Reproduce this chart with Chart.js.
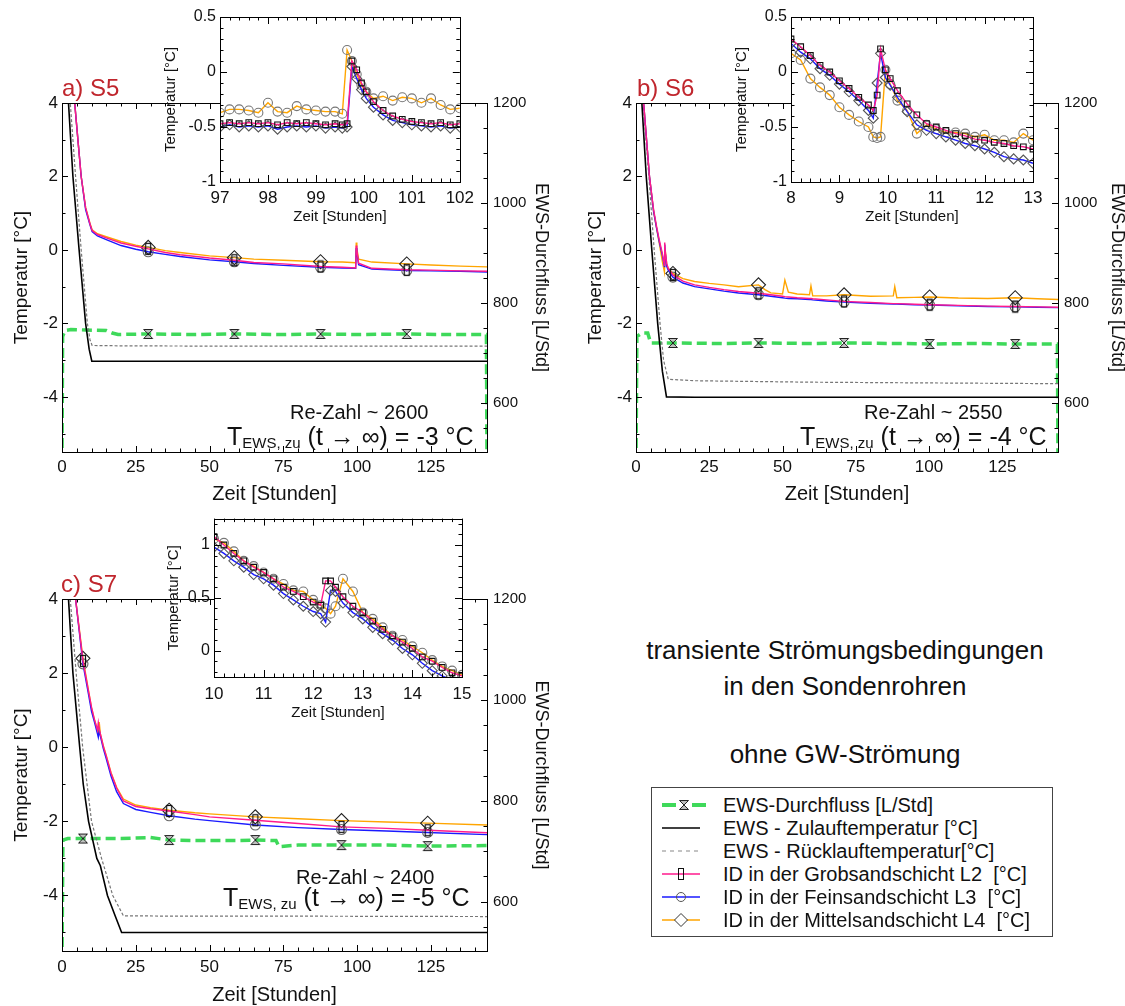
<!DOCTYPE html>
<html>
<head>
<meta charset="utf-8">
<script src="https://cdn.jsdelivr.net/npm/chart.js@4.4.1/dist/chart.umd.min.js"></script>
<style>
html, body { margin: 0; padding: 0; background: #fff; }
body { width: 1125px; height: 1006px; overflow: hidden; position: relative; font-family: "Liberation Sans", Arial, sans-serif; color: #111; }
.box { position: absolute; }
.txt { position: absolute; white-space: pre; line-height: 1; }
.panel { color: #c0262d; font-size: 24px; }
.re { font-size: 20px; }
.tews { font-size: 25px; }
.tews .sub { font-size: 15px; position: relative; top: 3px; }
.note { position: absolute; left: 600px; width: 490px; text-align: center; font-size: 26px; line-height: 26px; }
#legend { position: absolute; left: 651px; top: 787px; width: 400px; height: 148px; border: 1px solid #444; }
.row { position: absolute; left: 0; height: 23px; width: 400px; }
.row svg { position: absolute; left: 10px; top: 1px; }
.row span { position: absolute; left: 71px; top: 0; font-size: 20px; line-height: 23px; white-space: pre; }
</style>
</head>
<body>

<div class="box" style="left:0;top:80px;width:560px;height:430px"><canvas id="mainA"></canvas></div>
<div class="box" style="left:570px;top:80px;width:565px;height:430px"><canvas id="mainB"></canvas></div>
<div class="box" style="left:0;top:560px;width:560px;height:450px"><canvas id="mainC"></canvas></div>
<div class="box" style="left:150px;top:0;width:330px;height:235px"><canvas id="insetA"></canvas></div>
<div class="box" style="left:720px;top:0;width:330px;height:235px"><canvas id="insetB"></canvas></div>
<div class="box" style="left:150px;top:505px;width:330px;height:225px"><canvas id="insetC"></canvas></div>

<div class="txt panel" style="left:62px;top:76px">a) S5</div>
<div class="txt panel" style="left:637px;top:76px">b) S6</div>
<div class="txt panel" style="left:61px;top:572px">c) S7</div>

<div class="txt re" style="left:290px;top:402px">Re-Zahl ~ 2600</div>
<div class="txt tews" style="left:227px;top:424px">T<span class="sub">EWS, zu</span> (t → ∞) = -3 °C</div>
<div class="txt re" style="left:864px;top:402px">Re-Zahl ~ 2550</div>
<div class="txt tews" style="left:800px;top:424px">T<span class="sub">EWS, zu</span> (t → ∞) = -4 °C</div>
<div class="txt re" style="left:296px;top:867px">Re-Zahl ~ 2400</div>
<div class="txt tews" style="left:223px;top:885px">T<span class="sub">EWS, zu</span> (t → ∞) = -5 °C</div>

<div class="note" style="top:637px">transiente Strömungsbedingungen</div>
<div class="note" style="top:673px">in den Sondenrohren</div>
<div class="note" style="top:741px">ohne GW-Strömung</div>

<div id="legend">
  <div class="row" style="top:6px">
    <svg width="44" height="20"><line x1="0" y1="10" x2="14" y2="10" stroke="#3ed95a" stroke-width="4"/><line x1="30" y1="10" x2="44" y2="10" stroke="#3ed95a" stroke-width="4"/><path d="M17.5,5.5 L26.5,5.5 L17.5,14.5 L26.5,14.5 Z" fill="#bbb" stroke="#222" stroke-width="1"/></svg>
    <span>EWS-Durchfluss [L/Std]</span>
  </div>
  <div class="row" style="top:29px">
    <svg width="44" height="20"><line x1="0" y1="10" x2="38" y2="10" stroke="#000" stroke-width="1.6"/></svg>
    <span>EWS - Zulauftemperatur [°C]</span>
  </div>
  <div class="row" style="top:52px">
    <svg width="44" height="20"><line x1="0" y1="10" x2="38" y2="10" stroke="#888" stroke-width="1.2" stroke-dasharray="4 4"/></svg>
    <span>EWS - Rücklauftemperatur[°C]</span>
  </div>
  <div class="row" style="top:75px">
    <svg width="44" height="20"><line x1="0" y1="10" x2="38" y2="10" stroke="#ff1a8c" stroke-width="1.4"/><rect x="16.5" y="4.5" width="5" height="11" fill="none" stroke="#111" stroke-width="1"/></svg>
    <span>ID in der Grobsandschicht L2  [°C]</span>
  </div>
  <div class="row" style="top:98px">
    <svg width="44" height="20"><line x1="0" y1="10" x2="38" y2="10" stroke="#1a1aff" stroke-width="1.4"/><circle cx="19" cy="10" r="4.5" fill="none" stroke="#555" stroke-width="1"/></svg>
    <span>ID in der Feinsandschicht L3  [°C]</span>
  </div>
  <div class="row" style="top:121px">
    <svg width="44" height="20"><line x1="0" y1="10" x2="38" y2="10" stroke="#ffa500" stroke-width="1.4"/><path d="M19,3.5 L25.5,10 L19,16.5 L12.5,10 Z" fill="#fff" stroke="#333" stroke-width="1"/></svg>
    <span>ID in der Mittelsandschicht L4  [°C]</span>
  </div>
</div>

<script>
// ---------- Achsen / Ticks
const timeTicks = [0, 25, 50, 75, 100, 125];
const tempTicks = [-4, -2, 0, 2, 4];
const flowTicks = [600, 800, 1000, 1200];
const insetTempTicks = [-1, -0.5, 0, 0.5];
const insetCTempTicks = [0, 0.5, 1];
const insetATimeTicks = [97, 98, 99, 100, 101, 102];
const insetBTimeTicks = [8, 9, 10, 11, 12, 13];
const insetCTimeTicks = [10, 11, 12, 13, 14, 15];

// ---------- a) S5
const markA = [29.2, 58.4, 87.6, 116.8];
const tA_zu = [0, 2.2, 3.7, 5.8, 8.0, 9.2, 10.1, 20, 60, 100, 144];
const zulaufA = [7.5, 4, 2, 0, -2, -2.7, -3.03, -3.03, -3.03, -3.03, -3.03];
const tA_rueck = [0, 2.8, 4.6, 6.5, 8.6, 9.5, 10.2, 20, 60, 100, 144];
const ruecklaufA = [7.5, 4, 2, 0, -2, -2.45, -2.6, -2.61, -2.62, -2.62, -2.62];
const tA_flow = [0, 0.2, 1, 3, 8, 15, 17, 19, 29.2, 45, 58.4, 75, 87.6, 100, 116.8, 130, 143.8, 144];
const flowA = [480, 733, 745, 747, 746, 745, 740, 737, 738, 737, 738, 737, 738, 737, 738, 737, 737, 480];
const tA_id = [0, 4.3, 5.5, 6.5, 8, 9.5, 10.2, 12, 15, 20, 25, 29.2, 35, 40, 50, 58.4, 65, 75, 87.6, 95, 99.5, 99.7, 99.9, 100.5, 105, 116.8, 125, 135, 144];
const l2A = [10, 4, 2.9, 2, 1.15, 0.7, 0.53, 0.42, 0.33, 0.19, 0.1, 0.03, -0.07, -0.13, -0.22, -0.28, -0.34, -0.38, -0.45, -0.47, -0.49, 0.12, 0.0, -0.36, -0.5, -0.54, -0.55, -0.57, -0.58];
const l3A = [10, 4, 2.9, 2, 1.1, 0.68, 0.5, 0.38, 0.28, 0.12, 0.02, -0.05, -0.12, -0.18, -0.27, -0.32, -0.37, -0.42, -0.47, -0.49, -0.5, 0.05, -0.06, -0.4, -0.52, -0.56, -0.57, -0.58, -0.6];
const l4A = [10, 4, 2.9, 2, 1.15, 0.72, 0.55, 0.44, 0.36, 0.23, 0.13, 0.07, -0.02, -0.07, -0.16, -0.21, -0.25, -0.28, -0.32, -0.33, -0.35, 0.2, 0.04, -0.25, -0.33, -0.38, -0.41, -0.44, -0.46];

// ---------- b) S6
const markB = [12.6, 41.8, 71, 100.2, 129.4];
const tB_zu = [0, 2, 3.5, 5.4, 7.4, 9, 10.4, 20, 60, 100, 144];
const zulaufB = [7, 4, 2, 0, -2, -3.3, -4.0, -4.01, -4.01, -4.01, -4.01];
const tB_rueck = [0, 2.4, 4.4, 6.2, 8.2, 9.4, 11, 20, 60, 100, 144];
const ruecklaufB = [7, 4, 2, 0, -2, -3, -3.52, -3.56, -3.6, -3.62, -3.64];
const tB_flow = [0, 0.3, 2, 4, 5, 12.6, 30, 41.8, 60, 71, 90, 100.2, 115, 129.4, 143.8, 144];
const flowB = [480, 733, 740, 740, 720, 720, 719, 720, 719, 720, 719, 718, 719, 718, 718, 480];
const tB_id = [0, 2.6, 4.6, 6, 7, 8, 9, 9.7, 9.8, 10, 10.5, 11, 12.6, 16, 20, 25, 30, 35, 41.8, 44, 46, 50, 50.8, 52, 55, 59.2, 59.7, 60.3, 65, 71, 80, 87.8, 88.3, 89, 95, 100.2, 110, 120, 129.4, 137, 144];
const l2B = [10, 4, 2, 1.1, 0.65, 0.25, -0.1, -0.42, 0.2, -0.05, -0.38, -0.5, -0.68, -0.85, -0.95, -1.02, -1.08, -1.13, -1.18, -1.2, -1.22, -1.26, -1.27, -1.28, -1.3, -1.32, -1.32, -1.33, -1.36, -1.4, -1.43, -1.46, -1.46, -1.46, -1.48, -1.49, -1.51, -1.53, -1.54, -1.55, -1.56];
const l3B = [10, 4, 2, 1.05, 0.6, 0.2, -0.15, -0.45, 0.15, -0.1, -0.45, -0.55, -0.74, -0.9, -1.0, -1.06, -1.12, -1.17, -1.22, -1.24, -1.26, -1.3, -1.31, -1.32, -1.33, -1.35, -1.35, -1.36, -1.39, -1.42, -1.45, -1.47, -1.47, -1.47, -1.49, -1.5, -1.52, -1.54, -1.55, -1.56, -1.57];
const l4B = [10, 4, 2, 1.05, 0.6, 0.15, -0.32, -0.6, -0.6, -0.02, -0.4, -0.5, -0.64, -0.78, -0.86, -0.91, -0.95, -1.0, -0.95, -1.08, -1.17, -1.2, -0.82, -1.15, -1.2, -1.22, -0.98, -1.25, -1.25, -1.22, -1.26, -1.25, -1.0, -1.3, -1.29, -1.28, -1.31, -1.32, -1.3, -1.33, -1.35];

// ---------- c) S7
const markC = [7.1, 36.3, 65.5, 94.7, 123.9];
const tC_zu = [0, 2.2, 3.7, 6, 7.2, 9, 11.8, 13, 15.4, 18, 20.2, 40, 80, 144];
const zulaufC = [7.5, 4, 2, 0, -1, -2, -3, -3.2, -4, -4.55, -5.0, -5.0, -5.0, -5.0];
const tC_rueck = [0, 2.8, 4.8, 7, 10, 13.4, 17.2, 20.8, 40, 80, 144];
const ruecklaufC = [7.5, 4, 2, 0, -2, -3, -4, -4.55, -4.56, -4.56, -4.57];
const tC_flow = [0, 0.3, 2, 7.1, 20, 30, 36.3, 45, 60, 65.5, 72.5, 73.5, 80, 94.7, 110, 123.9, 144];
const flowC = [480, 722, 725, 725, 725, 727, 722, 721, 721, 722, 721, 709, 712, 712, 712, 710, 711];
const tC_id = [0, 4.6, 7.1, 9, 10, 11, 12, 12.3, 12.6, 13, 14, 15, 16.6, 18.5, 20.8, 25, 30, 36.3, 45, 50, 65.5, 80, 94.7, 110, 123.9, 144];
const l2C = [12, 4, 2.33, 1.5, 1.08, 0.74, 0.46, 0.66, 0.5, 0.36, 0.02, -0.24, -0.7, -1.1, -1.45, -1.6, -1.66, -1.72, -1.82, -1.88, -1.97, -2.06, -2.15, -2.19, -2.24, -2.31];
const l3C = [12, 4, 2.25, 1.42, 0.97, 0.68, 0.37, 0.27, 0.45, 0.3, -0.04, -0.31, -0.78, -1.2, -1.52, -1.68, -1.76, -1.85, -1.94, -1.98, -2.1, -2.17, -2.22, -2.26, -2.3, -2.36];
const l4C = [12, 4, 2.4, 1.52, 1.06, 0.74, 0.48, 0.4, 0.68, 0.36, 0.04, -0.23, -0.68, -1.08, -1.4, -1.56, -1.63, -1.7, -1.77, -1.8, -1.88, -1.93, -1.98, -2.02, -2.05, -2.1];

// ---------- Ausschnitte (Insets)
const insTA = [97, 97.2, 97.4, 97.6, 97.8, 98, 98.2, 98.4, 98.6, 98.8, 99, 99.2, 99.4, 99.55, 99.65, 99.75, 99.85, 99.95, 100.05, 100.2, 100.4, 100.6, 100.8, 101, 101.2, 101.4, 101.6, 101.8, 102];
const insA_L2 = [-0.47, -0.46, -0.47, -0.46, -0.47, -0.46, -0.48, -0.46, -0.47, -0.46, -0.47, -0.48, -0.47, -0.48, -0.47, 0.1, 0.02, -0.1, -0.18, -0.27, -0.35, -0.4, -0.43, -0.45, -0.46, -0.47, -0.46, -0.48, -0.47];
const insA_L3 = [-0.5, -0.48, -0.5, -0.49, -0.5, -0.49, -0.52, -0.5, -0.49, -0.5, -0.49, -0.51, -0.5, -0.51, -0.5, 0.05, -0.06, -0.16, -0.24, -0.32, -0.39, -0.44, -0.46, -0.48, -0.49, -0.5, -0.49, -0.51, -0.5];
const insA_L4 = [-0.37, -0.34, -0.34, -0.35, -0.37, -0.28, -0.36, -0.37, -0.31, -0.34, -0.35, -0.36, -0.36, -0.38, 0.2, 0.1, -0.02, -0.12, -0.18, -0.24, -0.22, -0.26, -0.23, -0.24, -0.28, -0.24, -0.3, -0.34, -0.33];

const insTB = [8, 8.2, 8.4, 8.6, 8.8, 9, 9.2, 9.4, 9.6, 9.7, 9.78, 9.85, 9.95, 10.05, 10.2, 10.4, 10.6, 10.8, 11, 11.2, 11.4, 11.6, 11.8, 12, 12.2, 12.4, 12.6, 12.8, 13];
const insB_L2 = [0.3, 0.23, 0.15, 0.06, 0, -0.08, -0.15, -0.23, -0.3, -0.35, -0.21, 0.21, 0.02, -0.06, -0.17, -0.29, -0.39, -0.47, -0.5, -0.53, -0.56, -0.58, -0.61, -0.62, -0.64, -0.65, -0.67, -0.68, -0.7];
const insB_L3 = [0.26, 0.18, 0.12, 0.03, -0.03, -0.11, -0.18, -0.26, -0.35, -0.42, -0.1, 0.17, -0.05, -0.12, -0.23, -0.36, -0.48, -0.53, -0.56, -0.59, -0.62, -0.65, -0.67, -0.7, -0.73, -0.77, -0.79, -0.8, -0.83];
const insB_L4 = [0.17, 0.11, -0.06, -0.14, -0.21, -0.32, -0.39, -0.45, -0.5, -0.59, -0.6, -0.59, 0.02, -0.11, -0.26, -0.35, -0.56, -0.48, -0.52, -0.55, -0.55, -0.56, -0.59, -0.57, -0.62, -0.62, -0.64, -0.56, -0.62];

const insTC = [10, 10.2, 10.4, 10.6, 10.8, 11, 11.2, 11.4, 11.6, 11.8, 12, 12.15, 12.25, 12.35, 12.45, 12.6, 12.8, 13, 13.2, 13.4, 13.6, 13.8, 14, 14.2, 14.4, 14.6, 14.8, 15];
const insC_L2 = [1.08, 1.0, 0.92, 0.85, 0.79, 0.74, 0.68, 0.6, 0.56, 0.51, 0.46, 0.43, 0.66, 0.66, 0.6, 0.51, 0.42, 0.36, 0.28, 0.2, 0.14, 0.08, 0.02, -0.06, -0.1, -0.16, -0.21, -0.24];
const insC_L3 = [0.98, 0.92, 0.85, 0.79, 0.72, 0.68, 0.62, 0.54, 0.48, 0.42, 0.37, 0.35, 0.27, 0.57, 0.56, 0.45, 0.36, 0.3, 0.22, 0.16, 0.1, 0.02, -0.04, -0.12, -0.19, -0.24, -0.28, -0.31];
const insC_L4 = [1.06, 1.02, 0.94, 0.85, 0.8, 0.74, 0.68, 0.63, 0.57, 0.56, 0.48, 0.43, 0.4, 0.35, 0.42, 0.68, 0.56, 0.36, 0.3, 0.22, 0.14, 0.1, 0.04, -0.02, -0.09, -0.15, -0.19, -0.23];

// ---------- Stil
const FONT = '"Liberation Sans", Arial, Helvetica, sans-serif';
const C_L2 = '#ff1a8c', C_L3 = '#1a1aff', C_L4 = '#ffa500', C_FLOW = '#3ed95a';

function icon(w, h, draw) {
    const c = document.createElement('canvas');
    c.width = w; c.height = h;
    draw(c.getContext('2d'));
    return c;
}
const hourglass = icon(12, 12, g => {
    g.beginPath();
    g.moveTo(1.5, 1.5); g.lineTo(10.5, 1.5); g.lineTo(1.5, 10.5); g.lineTo(10.5, 10.5); g.closePath();
    g.fillStyle = 'rgba(150,150,150,0.6)'; g.fill();
    g.strokeStyle = '#222'; g.lineWidth = 1; g.stroke();
});
const slimRect = icon(8, 14, g => {
    g.strokeStyle = '#111'; g.lineWidth = 1.2;
    g.strokeRect(1.5, 1.5, 5, 11);
});

// Rahmen + nach innen zeigende Ticks
const frameTicks = {
    id: 'frameTicks',
    afterDraw(chart, args, opts) {
        const { ctx, chartArea: a } = chart;
        ctx.save();
        ctx.strokeStyle = '#000';
        ctx.lineWidth = 1;
        ctx.beginPath();
        opts.marks.forEach(m => {
            const s = chart.scales[m.axis];
            const n0 = Math.ceil(s.min / m.minor - 1e-9), n1 = Math.floor(s.max / m.minor + 1e-9);
            for (let n = n0; n <= n1; n++) {
                const v = n * m.minor;
                const q = v / m.major;
                const len = Math.abs(q - Math.round(q)) < 1e-6 ? opts.long : opts.short;
                const p = Math.round(s.getPixelForValue(v)) + 0.5;
                m.sides.forEach(side => {
                    if (side === 'bottom') { ctx.moveTo(p, a.bottom); ctx.lineTo(p, a.bottom - len); }
                    if (side === 'top') { ctx.moveTo(p, a.top); ctx.lineTo(p, a.top + len); }
                    if (side === 'left') { ctx.moveTo(a.left, p); ctx.lineTo(a.left + len, p); }
                    if (side === 'right') { ctx.moveTo(a.right, p); ctx.lineTo(a.right - len, p); }
                });
            }
        });
        ctx.stroke();
        ctx.strokeRect(Math.round(a.left) + 0.5, Math.round(a.top) + 0.5, Math.round(a.right - a.left), Math.round(a.bottom - a.top));
        ctx.restore();
    }
};
const whiteArea = {
    id: 'whiteArea',
    beforeDraw(chart) {
        const { ctx, chartArea: a } = chart;
        ctx.save();
        ctx.fillStyle = '#fff';
        ctx.fillRect(a.left, a.top, a.right - a.left, a.bottom - a.top);
        ctx.restore();
    }
};

function pts(t, v) { return t.map((x, i) => ({ x: x, y: v[i] })); }

function lineSet(label, t, v, color, extra) {
    return Object.assign({
        label: label, data: pts(t, v), borderColor: color, borderWidth: 1.4,
        pointRadius: 0, tension: 0, fill: false
    }, extra || {});
}

function markerOpts(marks, style, r, stroke) {
    return {
        pointStyle: style,
        pointRadius: c => (c.raw && (!marks || marks.includes(c.raw.x))) ? r : 0,
        pointBorderColor: stroke,
        pointBackgroundColor: 'rgba(0,0,0,0)',
        pointBorderWidth: 1.1
    };
}

function linAxis(o) {
    return {
        type: 'linear', position: o.pos, min: o.min, max: o.max,
        grid: { display: false, drawTicks: false },
        border: { display: false },
        ticks: {
            font: { size: o.fs, family: FONT }, color: '#111', padding: o.pad, autoSkip: false, maxRotation: 0,
            callback: v => String(v)
        },
        afterBuildTicks: s => { s.ticks = o.ticks.map(v => ({ value: v })); },
        afterFit: s => { if (s.isHorizontal()) s.height = o.size; else s.width = o.size; },
        title: { display: true, text: o.title, color: '#111', font: { size: o.tfs, family: FONT }, padding: { top: o.tpad, bottom: o.tpad } }
    };
}

function mainChart(id, d) {
    new Chart(document.getElementById(id), {
        type: 'line',
        data: {
            datasets: [
                lineSet('ID in der Grobsandschicht L2', d.tId, d.l2, C_L2, markerOpts(d.marks, slimRect, 5, '#111')),
                lineSet('ID in der Feinsandschicht L3', d.tId, d.l3, C_L3, markerOpts(d.marks, 'circle', 5, '#666')),
                lineSet('ID in der Mittelsandschicht L4', d.tId, d.l4, C_L4, markerOpts(d.marks, 'rectRot', 7, '#222')),
                lineSet('EWS - Zulauftemperatur', d.tZu, d.zu, '#000', { borderWidth: 1.6 }),
                lineSet('EWS - Rücklauftemperatur', d.tRu, d.ru, '#777', { borderWidth: 1.2, borderDash: [3, 2] }),
                lineSet('EWS-Durchfluss', d.tFlow, d.flow, C_FLOW,
                    Object.assign({ yAxisID: 'y2', borderWidth: 3.5, borderDash: [10, 5] }, markerOpts(d.marks, hourglass, 5, '#222')))
            ]
        },
        options: {
            responsive: true, maintainAspectRatio: false, animation: false, events: [],
            layout: { padding: { top: d.padTop, left: 0, right: 0, bottom: 0 } },
            plugins: {
                legend: { display: false }, tooltip: { enabled: false },
                frameTicks: {
                    long: 6, short: 3.5,
                    marks: [
                        { axis: 'x', minor: 5, major: 25, sides: ['bottom', 'top'] },
                        { axis: 'y', minor: 1, major: 2, sides: ['left'] },
                        { axis: 'y2', minor: 50, major: 200, sides: ['right'] }
                    ]
                }
            },
            scales: {
                x: linAxis({ pos: 'bottom', min: 0, max: 144, ticks: timeTicks, size: d.hB, fs: 17, pad: d.xPad, title: 'Zeit [Stunden]', tfs: 20, tpad: d.xTpad }),
                y: linAxis({ pos: 'left', min: -5.5, max: 4, ticks: tempTicks, size: d.wL, fs: 17, pad: 4, title: 'Temperatur [°C]', tfs: 19, tpad: d.yTpad }),
                y2: linAxis({ pos: 'right', min: 502, max: 1200, ticks: flowTicks, size: d.wR, fs: 15, pad: 6, title: 'EWS-Durchfluss [L/Std]', tfs: 18, tpad: d.y2Tpad })
            }
        },
        plugins: [frameTicks]
    });
}

function insetChart(id, d) {
    new Chart(document.getElementById(id), {
        type: 'line',
        data: {
            datasets: [
                lineSet('L2', d.t, d.l2, C_L2, markerOpts(null, 'rect', 4, '#111')),
                lineSet('L3', d.t, d.l3, C_L3, markerOpts(null, 'rectRot', 5, '#555')),
                lineSet('L4', d.t, d.l4, C_L4, markerOpts(null, 'circle', 4.5, '#777'))
            ]
        },
        options: {
            responsive: true, maintainAspectRatio: false, animation: false, events: [],
            layout: { padding: { top: d.padTop, left: 0, right: d.padRight, bottom: 0 } },
            plugins: {
                legend: { display: false }, tooltip: { enabled: false },
                frameTicks: {
                    long: 7, short: 3.5,
                    marks: [
                        { axis: 'x', minor: 0.2, major: 1, sides: ['bottom', 'top'] },
                        { axis: 'y', minor: 0.1, major: 0.5, sides: ['left', 'right'] }
                    ]
                }
            },
            scales: {
                x: linAxis({ pos: 'bottom', min: d.xMin, max: d.xMax, ticks: d.xTicks, size: d.hB, fs: 17, pad: d.xPad, title: 'Zeit [Stunden]', tfs: 15, tpad: d.xTpad }),
                y: linAxis({ pos: 'left', min: d.yMin, max: d.yMax, ticks: d.yTicks, size: d.wL, fs: 16, pad: 4, title: 'Temperatur [°C]', tfs: 15, tpad: d.yTpad })
            }
        },
        plugins: [whiteArea, frameTicks]
    });
}

mainChart('mainA', {
    tId: tA_id, l2: l2A, l3: l3A, l4: l4A, tZu: tA_zu, zu: zulaufA, tRu: tA_rueck, ru: ruecklaufA,
    tFlow: tA_flow, flow: flowA, marks: markA,
    padTop: 23, wL: 62, wR: 73, hB: 58, xPad: 5, xTpad: 4, yTpad: 10.6, y2Tpad: 8
});
mainChart('mainB', {
    tId: tB_id, l2: l2B, l3: l3B, l4: l4B, tZu: tB_zu, zu: zulaufB, tRu: tB_rueck, ru: ruecklaufB,
    tFlow: tB_flow, flow: flowB, marks: markB,
    padTop: 23, wL: 66, wR: 77, hB: 58, xPad: 5, xTpad: 4, yTpad: 14.6, y2Tpad: 7
});
mainChart('mainC', {
    tId: tC_id, l2: l2C, l3: l3C, l4: l4C, tZu: tC_zu, zu: zulaufC, tRu: tC_rueck, ru: ruecklaufC,
    tFlow: tC_flow, flow: flowC, marks: markC,
    padTop: 39, wL: 62, wR: 73, hB: 59, xPad: 6, xTpad: 3, yTpad: 10.6, y2Tpad: 8
});

insetChart('insetA', {
    t: insTA, l2: insA_L2, l3: insA_L3, l4: insA_L4,
    xMin: 97, xMax: 102, xTicks: insetATimeTicks, yMin: -1, yMax: 0.5, yTicks: insetTempTicks,
    padTop: 17, padRight: 14, wL: 70, hB: 53, xPad: 6, xTpad: 9, yTpad: 12
});
insetChart('insetB', {
    t: insTB, l2: insB_L2, l3: insB_L3, l4: insB_L4,
    xMin: 8, xMax: 13, xTicks: insetBTimeTicks, yMin: -1, yMax: 0.5, yTicks: insetTempTicks,
    padTop: 17, padRight: 17, wL: 71, hB: 53, xPad: 6, xTpad: 9, yTpad: 13
});
insetChart('insetC', {
    t: insTC, l2: insC_L2, l3: insC_L3, l4: insC_L4,
    xMin: 10, xMax: 15, xTicks: insetCTimeTicks, yMin: -0.25, yMax: 1.25, yTicks: insetCTempTicks,
    padTop: 10, padRight: 18, wL: 64, hB: 53, xPad: 7, xTpad: 8, yTpad: 14.5
});
</script>
</body>
</html>
